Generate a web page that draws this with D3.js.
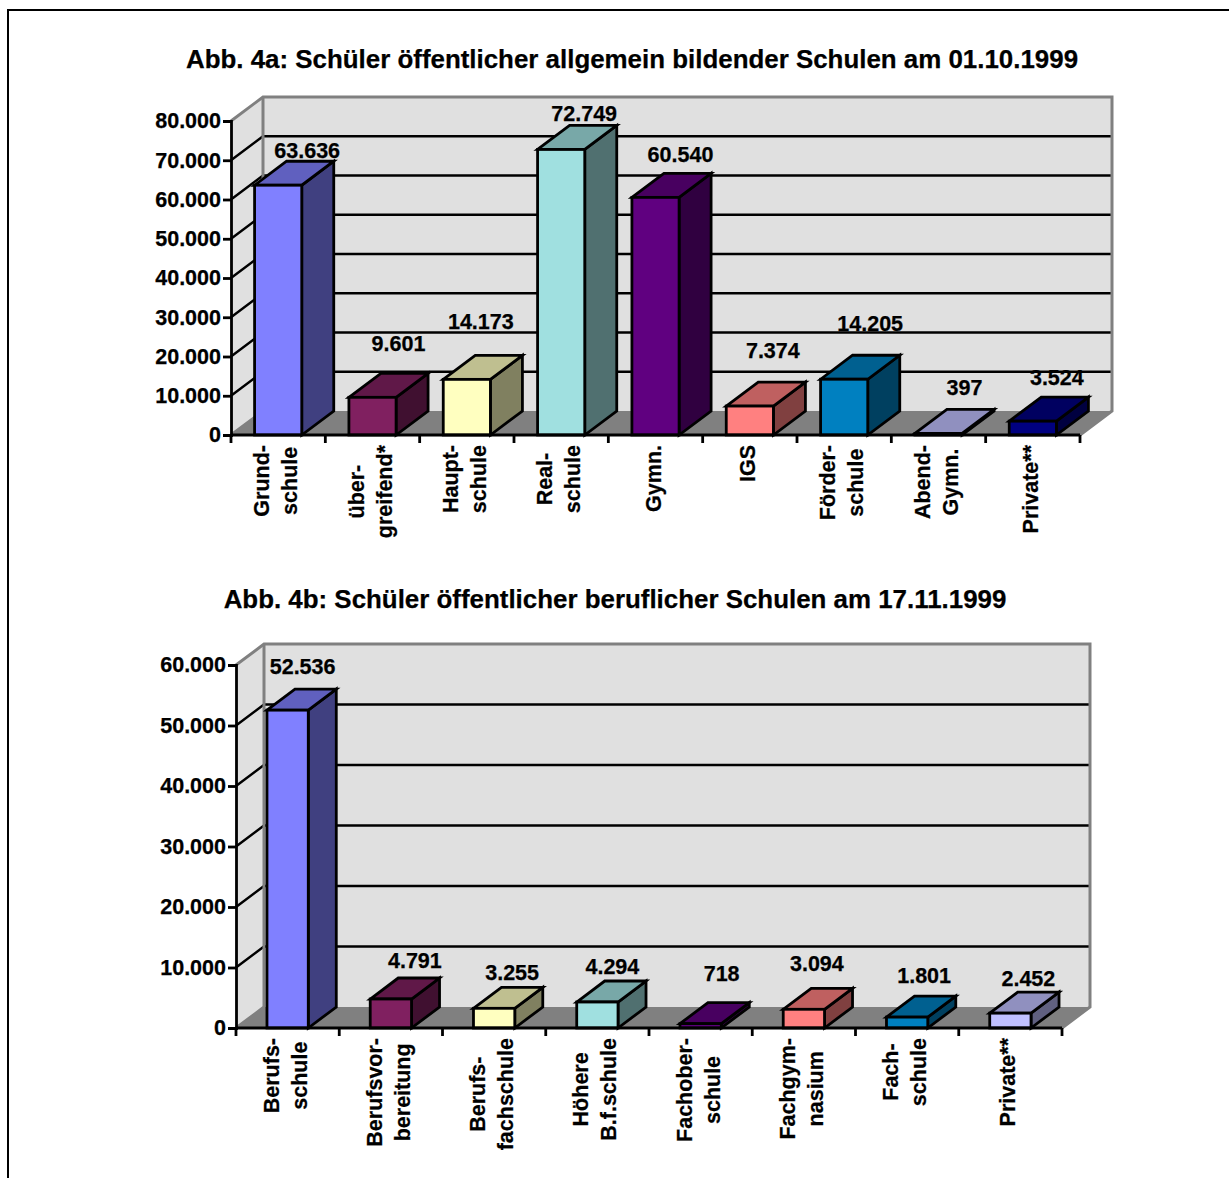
<!DOCTYPE html>
<html>
<head>
<meta charset="utf-8">
<script src="https://cdn.jsdelivr.net/npm/d3@7"></script>
<style>
  body { margin: 0; background: #fff; }
  text { font-family: "Liberation Sans", Arial, sans-serif; font-weight: bold; fill: #000; stroke: #000; stroke-width: 0.25; }
</style>
</head>
<body>
<svg id="chart" width="1229" height="1178" style="display:block"></svg>
<script>
// Abb. 4a
const titleA = 'Abb. 4a: Schüler öffentlicher allgemein bildender Schulen am 01.10.1999';
const categoriesA = ['Grund-\nschule', 'über-\ngreifend*', 'Haupt-\nschule', 'Real-\nschule', 'Gymn.', 'IGS', 'Förder-\nschule', 'Abend-\nGymn.', 'Private**'];
const valuesA = [63636, 9601, 14173, 72749, 60540, 7374, 14205, 397, 3524];
const colorsA = ['#8080ff', '#802060', '#ffffc0', '#a0e0e0', '#600080', '#ff8080', '#0080c0', '#c0c0ff', '#000080'];
const ticksA = [0, 10000, 20000, 30000, 40000, 50000, 60000, 70000, 80000];

// Abb. 4b
const titleB = 'Abb. 4b: Schüler öffentlicher beruflicher Schulen am 17.11.1999';
const categoriesB = ['Berufs-\nschule', 'Berufsvor-\nbereitung', 'Berufs-\nfachschule', 'Höhere\nB.f.schule', 'Fachober-\nschule', 'Fachgym-\nnasium', 'Fach-\nschule', 'Private**'];
const valuesB = [52536, 4791, 3255, 4294, 718, 3094, 1801, 2452];
const colorsB = ['#8080ff', '#802060', '#ffffc0', '#a0e0e0', '#600080', '#ff8080', '#0080c0', '#c0c0ff'];
const ticksB = [0, 10000, 20000, 30000, 40000, 50000, 60000];

// die Wertelabels sind im Original von Hand verschoben
const labelNudgeA = [[13, -10], [10, -29], [-2, -33], [7, -11], [9, -18], [7, -31], [10, -31], [10, -21], [8, -19]];
const labelNudgeB = [[1, -22], [10, -17], [4, -14], [1, -14], [7, -29], [-1, -24], [3, -20], [4, -13]];

const deDE = d3.formatLocale({ decimal: ',', thousands: '.', grouping: [3], currency: ['', ' €'] });
const fmt = deDE.format(',d');

let svg = d3.select('#chart');

// Rahmen: nur links und oben
svg.append('path')
  .attr('d', 'M8,1178V10H1229')
  .attr('fill', 'none')
  .attr('stroke', '#000')
  .attr('stroke-width', 2);

function shade(color, k) {
  let c = d3.rgb(color);
  return d3.rgb(c.r * k, c.g * k, c.b * k).formatHex();
}

function drawChart(cfg) {
  let { left, right, bottom, top, dx, dy, barRatio, maxValue } = cfg;
  let g = svg.append('g');

  let x = d3.scaleBand().domain(cfg.categories).range([left, right]);
  let y = d3.scaleLinear().domain([0, maxValue]).range([bottom, top]);

  g.append('text')
    .attr('x', cfg.titleX)
    .attr('y', cfg.titleY)
    .attr('text-anchor', 'middle')
    .attr('font-size', 25.9)
    .text(cfg.title);

  // Rückwand und linke Seitenwand
  g.append('path')
    .attr('d', `M${left},${bottom}V${top}L${left + dx},${top + dy}H${right + dx}V${bottom + dy}H${left + dx}Z`)
    .attr('fill', '#e0e0e0');

  // Gitterlinien
  let grid = cfg.ticks.slice(1, -1);
  g.selectAll('.grid')
    .data(grid)
    .enter().append('path')
    .attr('class', 'grid')
    .attr('d', (d) => `M${left},${y(d)}L${left + dx},${y(d) + dy}H${right + dx}`)
    .attr('fill', 'none')
    .attr('stroke', '#000')
    .attr('stroke-width', 2.4);

  // Boden
  g.append('path')
    .attr('d', `M${left},${bottom}H${right}L${right + dx},${bottom + dy}H${left + dx}Z`)
    .attr('fill', '#808080');

  g.append('path')
    .attr('d', `M${left},${top}L${left + dx},${top + dy}H${right + dx}V${bottom + dy}L${right},${bottom}`)
    .attr('fill', 'none')
    .attr('stroke', '#808080')
    .attr('stroke-width', 3);
  g.append('path')
    .attr('d', `M${left + dx},${top + dy}V${bottom + dy}L${left},${bottom}`)
    .attr('fill', 'none')
    .attr('stroke', '#808080')
    .attr('stroke-width', 3);

  // Säulen
  let bars = g.selectAll('.bar')
    .data(cfg.values)
    .enter().append('g')
    .attr('class', 'bar')
    .attr('stroke', '#000')
    .attr('stroke-width', 2.8)
    .attr('stroke-linejoin', 'miter');

  let barW = x.bandwidth() * barRatio;
  let barX = (i) => x(cfg.categories[i]) + (x.bandwidth() - barW) / 2;

  bars.append('path')
    .attr('d', (d, i) => `M${barX(i) + barW},${bottom}V${y(d)}l${dx},${dy}V${bottom + dy}Z`)
    .attr('fill', (d, i) => shade(cfg.colors[i], 0.5));
  bars.append('path')
    .attr('d', (d, i) => `M${barX(i)},${y(d)}l${dx},${dy}h${barW}l${-dx},${-dy}Z`)
    .attr('fill', (d, i) => shade(cfg.colors[i], 0.75));
  bars.append('rect')
    .attr('x', (d, i) => barX(i))
    .attr('y', (d) => y(d))
    .attr('width', barW)
    .attr('height', (d) => bottom - y(d))
    .attr('fill', (d, i) => cfg.colors[i]);

  // Wertelabels
  g.selectAll('.value')
    .data(cfg.values)
    .enter().append('text')
    .attr('class', 'value')
    .attr('text-anchor', 'middle')
    .attr('font-size', 21.5)
    .attr('x', (d, i) => barX(i) + barW / 2 + dx / 2 + cfg.nudge[i][0])
    .attr('y', (d, i) => y(d) + dy + cfg.nudge[i][1] + 7)
    .text((d) => fmt(d));

  // y-Achse
  let yAxis = g.append('g')
    .attr('transform', `translate(${left},0)`)
    .call(d3.axisLeft(y).tickValues(cfg.ticks).tickFormat(fmt).tickSize(8).tickPadding(2));
  yAxis.attr('font-family', null);
  yAxis.selectAll('text').attr('font-size', 21.5).attr('fill', '#000');
  yAxis.selectAll('line').attr('stroke', '#000').attr('stroke-width', 2.8);
  yAxis.select('.domain').attr('stroke', '#000').attr('stroke-width', 2.8);

  // x-Achse
  let edges = d3.range(cfg.categories.length + 1).map((i) => left + i * x.step());
  g.append('line')
    .attr('x1', left).attr('x2', right).attr('y1', bottom).attr('y2', bottom)
    .attr('stroke', '#000').attr('stroke-width', 2.8);
  g.selectAll('.xtick')
    .data(edges)
    .enter().append('line')
    .attr('class', 'xtick')
    .attr('x1', (d) => d).attr('x2', (d) => d)
    .attr('y1', bottom).attr('y2', bottom + 8)
    .attr('stroke', '#000').attr('stroke-width', 2.8);

  // senkrechte Kategorien, Block oben an der Achse
  cfg.categories.forEach((c, i) => {
    let lines = c.split('\n');
    let cx = x(c) + x.bandwidth() / 2 - 1;
    let label = g.append('g');
    let texts = label.selectAll('text')
      .data(lines)
      .enter().append('text')
      .attr('font-size', 21.5)
      .attr('text-anchor', 'middle')
      .text((d) => d);
    let maxLen = 0;
    texts.each(function () { maxLen = Math.max(maxLen, this.getComputedTextLength()); });
    let blockY = bottom + 10 + maxLen / 2;
    texts.attr('transform', (d, j) => {
      let lx = cx + (j - (lines.length - 1) / 2) * 28 + 6;
      return `translate(${lx},${blockY}) rotate(-90)`;
    });
  });
}

drawChart({
  title: titleA, titleX: 632, titleY: 68,
  categories: categoriesA, values: valuesA, colors: colorsA, ticks: ticksA, nudge: labelNudgeA,
  left: 231, right: 1080, top: 121, bottom: 435, dx: 32, dy: -24, barRatio: 0.5, maxValue: 80000
});

drawChart({
  title: titleB, titleX: 615, titleY: 608,
  categories: categoriesB, values: valuesB, colors: colorsB, ticks: ticksB, nudge: labelNudgeB,
  left: 236, right: 1062, top: 665, bottom: 1028, dx: 28, dy: -21, barRatio: 0.4, maxValue: 60000
});
</script>
</body>
</html>
